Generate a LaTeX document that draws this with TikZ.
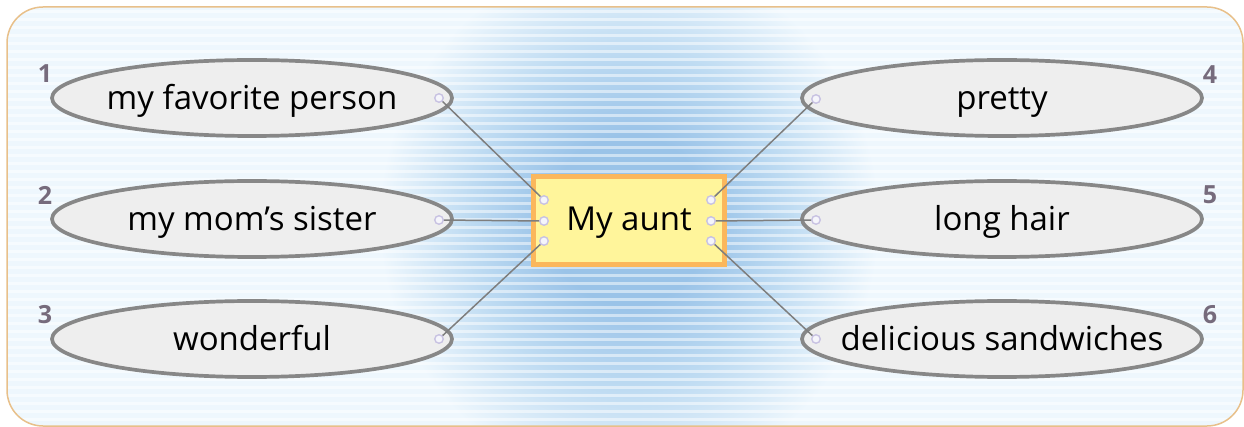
\documentclass[tikz,border=0pt]{standalone}
\usepackage{fontspec}
\setmainfont{Open Sans}
\usetikzlibrary{shapes.geometric}
\definecolor{bgc}{HTML}{EEF7FD}
\definecolor{glowA}{HTML}{9AC3E8}
\definecolor{glowB}{HTML}{BEDBF2}
\definecolor{framec}{HTML}{E8C08A}
\definecolor{ellfill}{HTML}{EEEEEE}
\definecolor{elldraw}{HTML}{878787}
\definecolor{boxfill}{HTML}{FFF59B}
\definecolor{boxdraw}{HTML}{FBB75C}
\definecolor{portdraw}{HTML}{C8C2E2}
\definecolor{portfill}{HTML}{F5F5FB}
\definecolor{linec}{HTML}{7E7E7E}
\definecolor{numc}{HTML}{766B7C}
\pgfdeclareradialshading{glow}{\pgfpoint{0bp}{0bp}}{color(0bp)=(glowA); color(8bp)=(glowA); color(16bp)=(glowB); color(25bp)=(bgc); color(50bp)=(bgc)}
\newcommand\zerowidth[1]{\makebox[0pt]{#1}}
\tikzset{
  ell/.style={ellipse, draw=elldraw, fill=ellfill, line width=3.7pt, minimum width=400pt, minimum height=76pt, inner sep=0pt, text height=23pt, text depth=0pt, font=\fontsize{33}{38}\selectfont},
  centerbox/.style={rectangle, draw=boxdraw, fill=boxfill, line width=5pt, minimum width=191pt, minimum height=88pt, inner sep=0pt, text height=21pt, text depth=0pt, font=\fontsize{33}{38}\selectfont},
  port/.style={circle, draw=portdraw, fill=portfill, line width=1.4pt, minimum size=8.5pt, inner sep=0pt},
  conn/.style={draw=linec, line width=1.5pt},
  num/.style={text=numc, font=\fontsize{25}{27}\selectfont\bfseries, inner sep=0pt}
}
\begin{document}
\begin{tikzpicture}[x=1pt,y=-1pt]
\useasboundingbox (0,0) rectangle (1244,427);
% background
\begin{scope}
  \clip[rounded corners=36pt] (7,7) rectangle (1243,426);
  \fill[bgc] (0,0) rectangle (1244,427);
  \shade[shading=glow] (379,-45) rectangle (879,485);
  \foreach \yy in {10,18,...,426} \fill[white,opacity=0.5] (0,\yy) rectangle (1244,\yy+3);
\end{scope}
\draw[framec, line width=1.5pt, rounded corners=36pt] (7,7) rectangle (1243,426);

% nodes
\node[ell] (e1) at (252,98) {\zerowidth{my favorite person}};
\node[ell] (e2) at (252,219) {\zerowidth{my mom’s sister}};
\node[ell] (e3) at (252,339) {\zerowidth{wonderful}};
\node[ell] (e4) at (1002,98) {\zerowidth{pretty}};
\node[ell] (e5) at (1002,219) {\zerowidth{long hair}};
\node[ell] (e6) at (1002,339) {\zerowidth{delicious sandwiches}};
\node[centerbox] (aunt) at (629,220.5) {My aunt};

\node[num] (n1) at (45,74) {1};
\node[num] (n2) at (45,195) {2};
\node[num] (n3) at (45,315) {3};
\node[num] (n4) at (1210,75) {4};
\node[num] (n5) at (1210,195) {5};
\node[num] (n6) at (1210,315) {6};

% port positions
\coordinate (pl1) at (439,98);
\coordinate (pl2) at (439,220);
\coordinate (pl3) at (439,339);
\coordinate (pr1) at (816,99);
\coordinate (pr2) at (816,220);
\coordinate (pr3) at (816,339);
\coordinate (bl1) at (544,200);
\coordinate (bl2) at (544,221);
\coordinate (bl3) at (544,241);
\coordinate (br1) at (711,200);
\coordinate (br2) at (711,221);
\coordinate (br3) at (711,241);

% connectors
\draw[conn] (pl1) -- (bl1);
\draw[conn] (pl2) -- (bl2);
\draw[conn] (pl3) -- (bl3);
\draw[conn] (br1) -- (pr1);
\draw[conn] (br2) -- (pr2);
\draw[conn] (br3) -- (pr3);

% ports
\foreach \p in {pl1,pl2,pl3,pr1,pr2,pr3,bl1,bl2,bl3,br1,br2,br3}
  \node[port] (dot-\p) at (\p) {};
\end{tikzpicture}
\end{document}
